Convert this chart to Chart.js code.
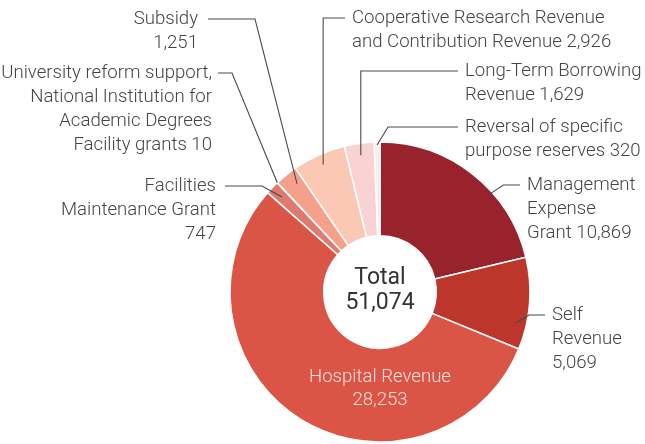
<!DOCTYPE html>
<html><head><meta charset="utf-8">
<script src="https://cdn.jsdelivr.net/npm/chart.js@4"></script>
<style>html,body{margin:0;padding:0;background:#fff}#wrap{width:645px;height:444px}</style>
</head><body><div id="wrap"><canvas id="c" width="645" height="444"></canvas></div>
<script>
const categories = ["Management Expense Grant","Self Revenue","Hospital Revenue","Facilities Maintenance Grant","University reform support, National Institution for Academic Degrees Facility grants","Subsidy","Cooperative Research Revenue and Contribution Revenue","Long-Term Borrowing Revenue","Reversal of specific purpose reserves"];
const values = [10869, 5069, 28253, 747, 10, 1251, 2926, 1629, 320];
const colors = ["#98232c","#bd362b","#db5547","#de7b71","#e48a7e","#f4a08a","#fbc8b4","#f9d3d3","#fcecef"];
const totalLabel = "Total";
const totalValue = "51,074";

// label layout: text lines, anchor position, alignment, leader line route
const labels = [
  {i:0, lines:["Management","Expense","Grant 10,869"], x:527, y:185, align:"left", at:0.63, r:0.98, route:"elbowH", hx:520},
  {i:1, lines:["Self","Revenue","5,069"], x:552, y:315, align:"left", at:0.73, r:0.93, route:"elbowH", hx:545},
  {i:3, lines:["Facilities","Maintenance Grant","747"], x:216, y:186, align:"right", at:0.5, r:0.91, route:"elbowL", hx:225, kx:262},
  {i:4, lines:["University reform support,","National Institution for","Academic Degrees","Facility grants 10"], x:212, y:73, align:"right", at:0.5, r:1.0, route:"elbowL", hx:218, kx:232},
  {i:5, lines:["Subsidy","1,251"], x:198, y:19, align:"right", at:0.65, r:0.91, route:"elbowL", hx:208, kx:255},
  {i:6, lines:["Cooperative Research Revenue","and Contribution Revenue 2,926"], x:352, y:18, align:"left", at:0.5, r:0.93, route:"vert", hx:345},
  {i:7, lines:["Long-Term Borrowing","Revenue 1,629"], x:465, y:71, align:"left", at:0.5, r:0.92, route:"vert", hx:458},
  {i:8, lines:["Reversal of specific","purpose reserves 320"], x:465, y:127, align:"left", at:0.5, r:0.98, route:"elbowR", hx:458, kx:388}
];
const FONT = "300 18.6px Roboto";
const LH = 24;

const labelPlugin = {
  id: "labels",
  afterDraw(chart) {
    const ctx = chart.ctx;
    const meta = chart.getDatasetMeta(0);
    ctx.save();
    ctx.strokeStyle = "#4a4a4a";
    ctx.lineWidth = 1.1;
    labels.forEach(L => {
      const arc = meta.data[L.i];
      const a = arc.startAngle + (arc.endAngle - arc.startAngle) * L.at;
      const px = arc.x + Math.cos(a) * arc.outerRadius * L.r;
      const py = arc.y + Math.sin(a) * arc.outerRadius * L.r;
      const ly = L.y;
      ctx.beginPath();
      if (L.route === "vert") {
        ctx.moveTo(px, py); ctx.lineTo(px, ly); ctx.lineTo(L.hx, ly);
      } else if (L.route === "elbowH") {
        const kx = px + (L.hx - px) * 0.45;
        ctx.moveTo(px, py); ctx.lineTo(kx, ly); ctx.lineTo(L.hx, ly);
      } else if (L.route === "elbowL") {
        ctx.moveTo(L.hx, ly); ctx.lineTo(L.kx, ly); ctx.lineTo(px, py);
      } else if (L.route === "elbowR") {
        ctx.moveTo(px, py); ctx.lineTo(L.kx, ly); ctx.lineTo(L.hx, ly);
      }
      ctx.stroke();
      ctx.fillStyle = "#444";
      ctx.font = FONT;
      ctx.textAlign = L.align;
      ctx.textBaseline = "middle";
      L.lines.forEach((t, k) => ctx.fillText(t, L.x, L.y + k * LH));
    });
    const h = meta.data[2];
    ctx.fillStyle = "#fbe0da";
    ctx.textAlign = "center";
    ctx.font = FONT;
    ctx.fillText("Hospital Revenue", h.x, 377);
    ctx.fillText(values[2].toLocaleString("en-US"), h.x, 400);
    ctx.fillStyle = "#333";
    ctx.font = "400 23px Roboto";
    ctx.fillText(totalLabel, h.x, 278);
    ctx.fillText(totalValue, h.x, 303);
    ctx.restore();
  }
};

new Chart(document.getElementById("c"), {
  type: "doughnut",
  data: { labels: categories, datasets: [{ data: values, backgroundColor: colors, borderColor: "#ffffff", borderWidth: 1.5 }] },
  options: {
    responsive: false, animation: false,
    radius: 150, cutout: 56,
    layout: { padding: { left: 230, right: 115, top: 142, bottom: 2 } },
    plugins: { legend: { display: false }, tooltip: { enabled: false } }
  },
  plugins: [labelPlugin]
});
</script></body></html>
